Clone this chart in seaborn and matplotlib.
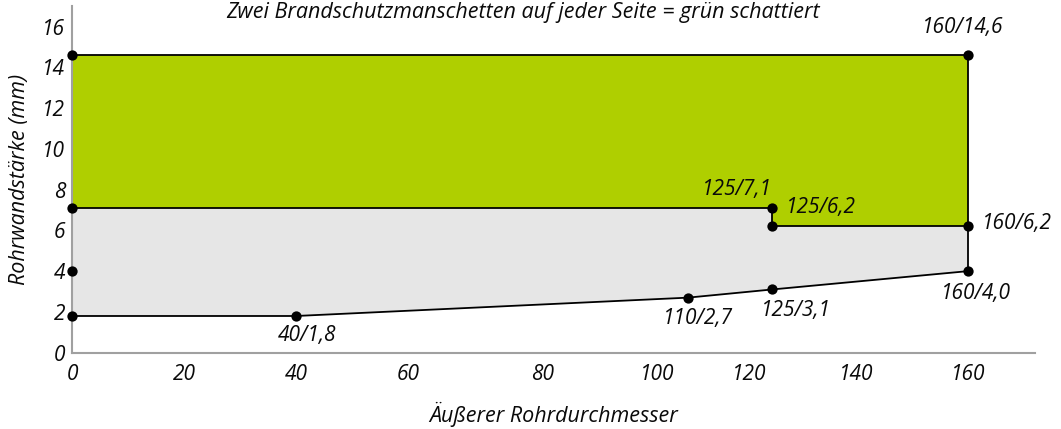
import matplotlib
matplotlib.use("Agg")
import matplotlib.pyplot as plt
import seaborn as sns
import pandas as pd

# ---- data ----
lower_x = [0, 40, 110, 125, 160]
lower_y = [1.8, 1.8, 2.7, 3.1, 4.0]
middle_x = [0, 125, 125, 160]
middle_y = [7.1, 7.1, 6.2, 6.2]
upper_x = [0, 160]
upper_y = [14.6, 14.6]
right_x = [160, 160]
right_y = [4.0, 14.6]

point_x = [0, 0, 0, 0, 40, 110, 125, 160, 160, 125, 125, 160]
point_y = [14.6, 7.1, 4.0, 1.8, 1.8, 2.7, 3.1, 4.0, 6.2, 6.2, 7.1, 14.6]

label_text = ["160/14,6", "125/7,1", "125/6,2", "160/6,2", "160/4,0",
              "125/3,1", "110/2,7", "40/1,8"]
label_x = [160, 125, 125, 160, 160, 125, 110, 40]
label_y = [14.6, 7.1, 7.1, 6.2, 4.0, 3.1, 2.7, 1.8]

xtick_labels = ["0", "20", "40", "60", "80", "100", "120", "140", "160"]
xtick_pos = [0, 20, 40, 60, 84, 104.5, 121, 140, 160]
ytick_vals = [0, 2, 4, 6, 8, 10, 12, 14, 16]

title = "Zwei Brandschutzmanschetten auf jeder Seite = grün schattiert"
xlabel = "Äußerer Rohrdurchmesser"
ylabel = "Rohrwandstärke (mm)"

GREEN = "#afcf00"
GREY = "#e6e6e6"
SPINE = "#a0a0a0"
TXT = "#0a0a0a"

sns.set_style("white")
plt.rcParams['font.family'] = ['Open Sans', 'DejaVu Sans']
plt.rcParams['font.style'] = 'italic'

fig = plt.figure(figsize=(10.61, 4.29), dpi=100)
ax = fig.add_axes([0.0679, 0.1779, 0.9076, 0.8077])

# grey region: between lower boundary and middle boundary
grey_poly_x = lower_x + middle_x[::-1]
grey_poly_y = lower_y + middle_y[::-1]
ax.fill(grey_poly_x, grey_poly_y, color=GREY, lw=0, zorder=1)
# green region: between middle boundary and upper boundary
green_poly_x = middle_x + upper_x[::-1]
green_poly_y = middle_y + upper_y[::-1]
ax.fill(green_poly_x, green_poly_y, color=GREEN, lw=0, zorder=1)

for xs, ys in [(lower_x, lower_y), (middle_x, middle_y), (upper_x, upper_y), (right_x, right_y)]:
    df = pd.DataFrame({"x": xs, "y": ys})
    sns.lineplot(data=df, x="x", y="y", sort=False, estimator=None, color="black",
                 lw=1.3, ax=ax, zorder=3)

pts = pd.DataFrame({"x": point_x, "y": point_y})
sns.scatterplot(data=pts, x="x", y="y", color="black", s=55, edgecolor="black",
                linewidth=0, ax=ax, zorder=5, clip_on=False)

# label placement (offsets in points)
offsets = {
    "160/14,6": (-4, 20, "center", "center"),
    "125/7,1": (0, 13, "right", "center"),
    "125/6,2": (10, 0, "left", "center"),
    "160/6,2": (10, 2, "left", "center"),
    "160/4,0": (6, -16, "center", "center"),
    "125/3,1": (17, -15, "center", "center"),
    "110/2,7": (7, -15, "center", "center"),
    "40/1,8": (8, -14, "center", "center"),
}
for t, x, y in zip(label_text, label_x, label_y):
    dx, dy, ha, va = offsets[t]
    ax.annotate(t, (x, y), xytext=(dx, dy), textcoords="offset points",
                ha=ha, va=va, fontsize=15, fontstyle="italic", color=TXT, zorder=6)

ax.set_xlim(0, 172)
ax.set_ylim(0, 17)
ax.set_xticks(xtick_pos)
ax.set_xticklabels(xtick_labels)
ax.set_yticks(ytick_vals)
ax.set_yticklabels([str(v) for v in ytick_vals])
ax.tick_params(axis="both", length=0, labelsize=15, colors=TXT)
ax.tick_params(axis="x", pad=8)
ax.tick_params(axis="y", pad=5)
for lab in ax.get_xticklabels() + ax.get_yticklabels():
    lab.set_fontstyle("italic")

ax.set_xlabel(xlabel, fontsize=15.5, fontstyle="italic", labelpad=12, color=TXT)
ax.set_ylabel(ylabel, fontsize=15.5, fontstyle="italic", labelpad=9, color=TXT)

for side in ["top", "right"]:
    ax.spines[side].set_visible(False)
for side in ["left", "bottom"]:
    ax.spines[side].set_color(SPINE)
    ax.spines[side].set_linewidth(1.5)
ax.grid(False)

fig.text(0.493, 1 - 18 / 429, title, ha="center", va="baseline", fontsize=15.5,
         fontstyle="italic", color=TXT)

fig.savefig("out.png", dpi=100)
